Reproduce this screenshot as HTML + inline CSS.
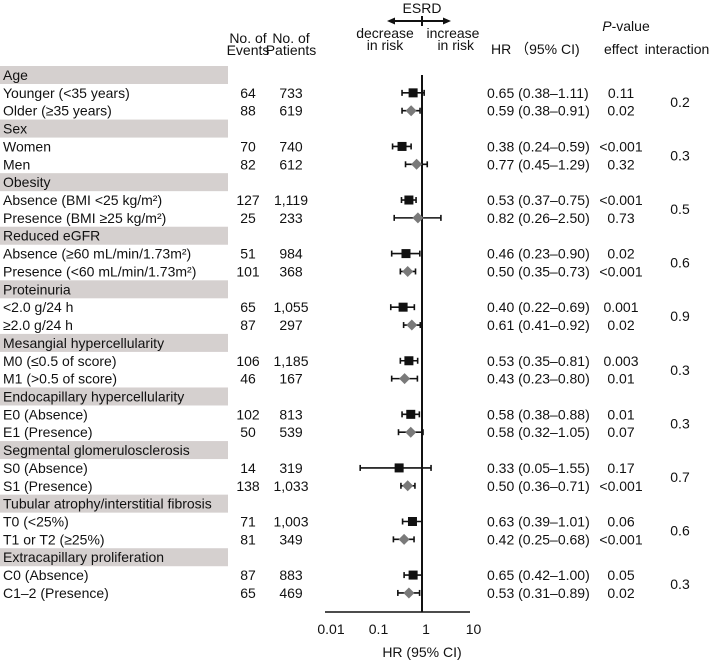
<!DOCTYPE html>
<html><head><meta charset="utf-8"><style>
body{margin:0;background:#fff;}
svg text{font-family:"Liberation Sans",Arial,sans-serif;font-size:14px;fill:#111;}
</style></head><body>
<svg id="chart" width="710" height="663" viewBox="0 0 710 663">
<g id="hdr">
<text x="248" y="43" text-anchor="middle">No. of</text><text x="248" y="55" text-anchor="middle">Events</text>
<text x="291" y="43" text-anchor="middle">No. of</text><text x="291" y="55" text-anchor="middle">Patients</text>
<text x="422" y="13" text-anchor="middle">ESRD</text>
<line x1="390" y1="21" x2="448" y2="21" stroke="#111" stroke-width="2"/>
<polygon points="387,21 395,17.5 395,24.5" fill="#111"/><polygon points="451,21 443,17.5 443,24.5" fill="#111"/>
<line x1="422" y1="16" x2="422" y2="26" stroke="#111" stroke-width="2"/>
<text x="385" y="38" text-anchor="middle">decrease</text><text x="385" y="50" text-anchor="middle">in risk</text>
<text x="453" y="38" text-anchor="middle">increase</text><text x="474" y="50" text-anchor="end">in risk</text>
<text x="491" y="54">HR （95% CI)</text>
<text x="626" y="31" text-anchor="middle"><tspan font-style="italic">P</tspan>-value</text>
<text x="621" y="54" text-anchor="middle">effect</text><text x="677" y="54" text-anchor="middle">interaction</text>
</g>
<g id="rows"></g>
<g id="axis"></g>
</svg>
<script>
const groups=["Age","Sex","Obesity","Reduced eGFR","Proteinuria","Mesangial hypercellularity","Endocapillary hypercellularity","Segmental glomerulosclerosis","Tubular atrophy/interstitial fibrosis","Extracapillary proliferation"];
const labels=["Younger (<35 years)","Older (≥35 years)","Women","Men","Absence (BMI <25 kg/m²)","Presence (BMI ≥25 kg/m²)","Absence (≥60 mL/min/1.73m²)","Presence (<60 mL/min/1.73m²)","<2.0 g/24 h","≥2.0 g/24 h","M0 (≤0.5 of score)","M1 (>0.5 of score)","E0 (Absence)","E1 (Presence)","S0 (Absence)","S1 (Presence)","T0 (<25%)","T1 or T2 (≥25%)","C0 (Absence)","C1–2 (Presence)"];
const events=["64","88","70","82","127","25","51","101","65","87","106","46","102","50","14","138","71","81","87","65"];
const patients=["733","619","740","612","1,119","233","984","368","1,055","297","1,185","167","813","539","319","1,033","1,003","349","883","469"];
const hr=[0.65,0.59,0.38,0.77,0.53,0.82,0.46,0.50,0.40,0.61,0.53,0.43,0.58,0.58,0.33,0.50,0.63,0.42,0.65,0.53];
const lo=[0.38,0.38,0.24,0.45,0.37,0.26,0.23,0.35,0.22,0.41,0.35,0.23,0.38,0.32,0.05,0.36,0.39,0.25,0.42,0.31];
const hi=[1.11,0.91,0.59,1.29,0.75,2.50,0.90,0.73,0.69,0.92,0.81,0.80,0.88,1.05,1.55,0.71,1.01,0.68,1.00,0.89];
const pEffect=["0.11","0.02","<0.001","0.32","<0.001","0.73","0.02","<0.001","0.001","0.02","0.003","0.01","0.01","0.07","0.17","<0.001","0.06","<0.001","0.05","0.02"];
const pInter=["0.2","0.3","0.5","0.6","0.9","0.3","0.3","0.7","0.6","0.3"];
const ticks=[0.01,0.1,1,10];
const NS="http://www.w3.org/2000/svg";
const xs=v=>422+47.5*Math.log10(v);
const ys=i=>75+17.86*i;
function mk(tag,at,par){const e=document.createElementNS(NS,tag);for(const k in at)e.setAttribute(k,at[k]);par.appendChild(e);return e;}
const R=document.getElementById('rows');
mk('line',{x1:422,y1:75,x2:422,y2:612,stroke:'#111','stroke-width':2},R);
groups.forEach((g,gi)=>{
  const y=ys(gi*3);
  const b=mk('rect',{x:0,y:y-9,width:228,height:18,fill:'#d5d0cf'},R);
  
  
  const t=mk('text',{x:3,y:y+5},R);t.textContent=g;
  
  
  const p=mk('text',{x:680,y:ys(gi*3+1)+14,'text-anchor':'middle'},R);p.textContent=pInter[gi];
  
  
  for(let k=0;k<2;k++){
    const i=gi*2+k, yy=ys(gi*3+1+k);
    const tl=mk('text',{x:3,y:yy+5},R);tl.textContent=labels[i];
    
    
    const te=mk('text',{x:248,y:yy+5,'text-anchor':'middle'},R);te.textContent=events[i];
    
    
    const tp=mk('text',{x:291,y:yy+5,'text-anchor':'middle'},R);tp.textContent=patients[i];
    
    
    const th=mk('text',{x:487,y:yy+5},R);th.textContent=hr[i].toFixed(2)+" ("+lo[i].toFixed(2)+"–"+hi[i].toFixed(2)+")";
    
    
    const tf=mk('text',{x:621,y:yy+5,'text-anchor':'middle'},R);tf.textContent=pEffect[i];
    
    
    const col=k==0?'#111':'#7a7a7a';
    const ci=mk('line',{x1:xs(lo[i]),y1:yy,x2:xs(hi[i]),y2:yy,stroke:'#111','stroke-width':1.6},R);
    
    
    mk('line',{x1:xs(lo[i]),y1:yy-3,x2:xs(lo[i]),y2:yy+3,stroke:'#111','stroke-width':1.6},R);
    mk('line',{x1:xs(hi[i]),y1:yy-3,x2:xs(hi[i]),y2:yy+3,stroke:'#111','stroke-width':1.6},R);
    const x=xs(hr[i]);
    let m;
    if(k==0)m=mk('rect',{x:x-4.5,y:yy-4.5,width:9,height:9,fill:col},R);
    else m=mk('polygon',{points:`${x-5.5},${yy} ${x},${yy-5.5} ${x+5.5},${yy} ${x},${yy+5.5}`,fill:col},R);
    
    
  }
});
const A=document.getElementById('axis');
mk('line',{x1:325,y1:612,x2:470,y2:612,stroke:'#111','stroke-width':1.6},A);
ticks.forEach(t=>{const e=mk('text',{x:xs(t)+4,y:634,'text-anchor':'middle'},A);e.textContent=String(t);
  
  });
const at=mk('text',{x:422,y:657,'text-anchor':'middle'},A);at.textContent="HR (95% CI)";


</script>
</body></html>
